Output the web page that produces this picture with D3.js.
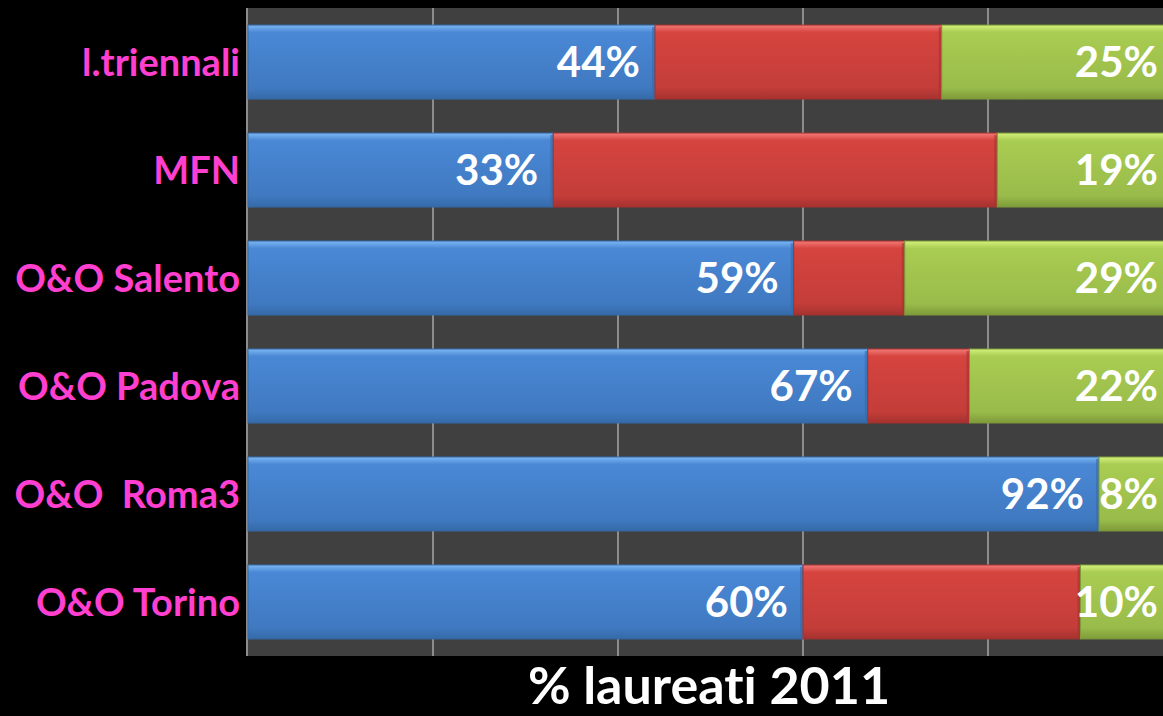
<!DOCTYPE html>
<html>
<head>
<meta charset="utf-8">
<script src="https://cdn.jsdelivr.net/npm/d3@7"></script>
<style>
  html, body { margin: 0; padding: 0; background: #000; overflow: hidden; }
  svg { display: block; }
  text { font-variant-ligatures: none; }
</style>
</head>
<body>
<svg id="chart"></svg>
<script>
var width = 1163, height = 716;

var categories = ["l.triennali", "MFN", "O&O Salento", "O&O Padova", "O&O  Roma3", "O&O Torino"];
var blue = [44, 33, 59, 67, 92, 60];
var red = [31, 48, 12, 11, 0, 30];
var green = [25, 19, 29, 22, 8, 10];
var ticks = [0, 20, 40, 60, 80, 100];
var title = "% laureati 2011";

var svg = d3.select("#chart")
    .attr("width", width)
    .attr("height", height)

var plotLeft = 248, plotTop = 8, plotBottom = 656, plotRight = 1173

var x = d3.scaleLinear().domain([0, 100]).range([plotLeft, plotRight])
var y = d3.scaleBand().domain(categories).range([plotTop, plotBottom]).paddingInner(0.315).paddingOuter(0.158)

var rows = categories.map((c, i) => ({cat: c, blue: blue[i], red: red[i], green: green[i]}))
var keys = ["blue", "red", "green"]
var stack = d3.stack().keys(keys)(rows)

var colours = {
    blue: ["#7db7f2", "#4a88d6", "#3f79c0", "#356aa8"],
    red: ["#f47b78", "#d6443f", "#c33d39", "#a5322f"],
    green: ["#d4f27d", "#a9cc52", "#99bb4a", "#7e9b3a"]
}

var defs = svg.append("defs")
keys.forEach(k => {
    var g = defs.append("linearGradient")
        .attr("id", "grad-" + k)
        .attr("x1", 0).attr("y1", 0).attr("x2", 0).attr("y2", 1)
    g.append("stop").attr("offset", "0%").attr("stop-color", colours[k][0])
    g.append("stop").attr("offset", "10%").attr("stop-color", colours[k][1])
    g.append("stop").attr("offset", "85%").attr("stop-color", colours[k][2])
    g.append("stop").attr("offset", "100%").attr("stop-color", colours[k][3])
})

// plot background
svg.append("rect")
    .attr("x", plotLeft)
    .attr("y", plotTop)
    .attr("width", width - plotLeft)
    .attr("height", plotBottom - plotTop)
    .attr("fill", "#404040")

// gridlines
svg.append("g")
    .selectAll("line")
    .data(ticks.slice(1))
    .enter()
    .append("line")
    .attr("x1", d => x(d)).attr("x2", d => x(d))
    .attr("y1", plotTop).attr("y2", plotBottom)
    .attr("stroke", "#8c8c8c")
    .attr("stroke-width", 2)

// axis line
svg.append("line")
    .attr("x1", plotLeft - 1).attr("x2", plotLeft - 1)
    .attr("y1", plotTop).attr("y2", plotBottom)
    .attr("stroke", "#8c8c8c")
    .attr("stroke-width", 2)

var layers = svg.append("g")
    .selectAll("g")
    .data(stack)
    .enter()
    .append("g")

layers.selectAll("rect.bar")
    .data(d => d.map(v => ({key: d.key, v: v})).filter(d => d.v[1] - d.v[0] > 0))
    .enter()
    .append("rect")
    .attr("class", "bar")
    .attr("x", d => x(d.v[0]))
    .attr("y", d => y(d.v.data.cat))
    .attr("width", d => x(d.v[1]) - x(d.v[0]))
    .attr("height", y.bandwidth())
    .attr("fill", d => "url(#grad-" + d.key + ")")
    .attr("stroke", d => colours[d.key][3])
    .attr("stroke-width", 1)

// right bevel shade
layers.selectAll("rect.edge")
    .data(d => d.map(v => ({key: d.key, v: v})).filter(d => d.v[1] - d.v[0] > 0))
    .enter()
    .append("rect")
    .attr("class", "edge")
    .attr("x", d => x(d.v[1]) - 3)
    .attr("y", d => y(d.v.data.cat) + 2)
    .attr("width", 3)
    .attr("height", y.bandwidth() - 4)
    .attr("fill", d => colours[d.key][3])
    .attr("opacity", 0.6)

// value labels (blue and green)
var labelled = stack.filter(s => s.key != "red")
svg.append("g")
    .selectAll("g")
    .data(labelled)
    .enter()
    .append("g")
    .selectAll("text")
    .data(d => d)
    .enter()
    .append("text")
    .attr("x", d => x(d[1]) - 15)
    .attr("y", d => y(d.data.cat) + y.bandwidth() / 2)
    .attr("dy", "0.36em")
    .attr("text-anchor", "end")
    .attr("fill", "#ffffff")
    .attr("font-family", "Lato, 'Open Sans', sans-serif")
    .attr("font-weight", "bold")
    .attr("font-size", 42)
    .text(d => (d[1] - d[0]) + "%")

// category labels
svg.append("g")
    .selectAll("text")
    .data(categories)
    .enter()
    .append("text")
    .attr("x", 240)
    .attr("y", d => y(d) + y.bandwidth() / 2)
    .attr("dy", "0.36em")
    .attr("text-anchor", "end")
    .attr("fill", "#ff3fcf")
    .attr("font-family", "Lato, 'Open Sans', sans-serif")
    .attr("font-weight", "bold")
    .attr("font-size", 38)
    .style("white-space", "pre")
    .text(d => d)

// title
svg.append("text")
    .attr("x", 709)
    .attr("y", 704)
    .attr("text-anchor", "middle")
    .attr("fill", "#ffffff")
    .attr("font-family", "Lato, 'Open Sans', sans-serif")
    .attr("font-weight", "bold")
    .attr("font-size", 52)
    .text(title)
</script>
</body>
</html>
